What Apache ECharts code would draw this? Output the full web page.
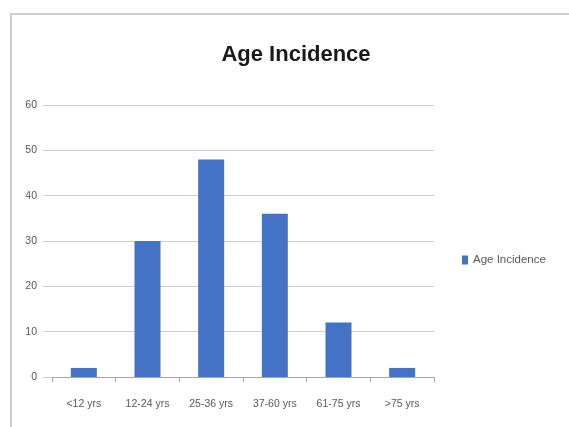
<!DOCTYPE html>
<html><head><meta charset="utf-8">
<script src="https://cdn.jsdelivr.net/npm/echarts@6/dist/echarts.min.js"></script>
<style>html,body{margin:0;padding:0;background:#fff}#c{width:569px;height:427px}</style>
</head><body><div id="c"></div>
<script>
const categories = ['<12 yrs', '12-24 yrs', '25-36 yrs', '37-60 yrs', '61-75 yrs', '>75 yrs'];
const values = [2, 30, 48, 36, 12, 2];
const seriesName = 'Age Incidence';
const chart = echarts.init(document.getElementById('c'));
chart.setOption({
  animation: false,
  backgroundColor: '#fff',
  title: {
    text: 'Age Incidence', left: 291, top: 39, textAlign: 'center',
    textStyle: {fontFamily: 'Liberation Sans', fontWeight: 'bold', fontSize: 22, color: '#1a1a1a'}
  },
  graphic: [{type: 'rect', shape: {x: 11, y: 14, width: 620, height: 500},
    style: {fill: 'none', stroke: '#cfcfcf', lineWidth: 2}}],
  legend: {
    data: [{name: seriesName, icon: 'rect'}], left: 457, top: 249, itemWidth: 6, itemHeight: 9, itemGap: 4,
    textStyle: {fontFamily: 'Liberation Sans', fontSize: 11.5, color: '#595959'}
  },
  grid: {left: 52, right: 135, top: 105, bottom: 50},
  xAxis: {
    type: 'category', data: categories,
    axisLine: {lineStyle: {color: '#a6a6a6', width: 1}},
    axisTick: {show: true, alignWithLabel: false, length: 5, lineStyle: {color: '#a6a6a6'}},
    axisLabel: {fontFamily: 'Liberation Sans', fontSize: 10.5, color: '#595959', margin: 22, interval: 0}
  },
  yAxis: {
    type: 'value', min: 0, max: 60, interval: 10,
    axisLine: {show: false},
    axisTick: {show: true, length: 9, lineStyle: {color: '#d0d0d0'}},
    splitLine: {lineStyle: {color: '#d0d0d0'}},
    axisLabel: {fontFamily: 'Liberation Sans', fontSize: 10.5, color: '#595959', margin: 15}
  },
  series: [{
    name: seriesName, type: 'bar', data: values, barWidth: 26,
    itemStyle: {color: '#4472C4'}
  }]
});
</script></body></html>
